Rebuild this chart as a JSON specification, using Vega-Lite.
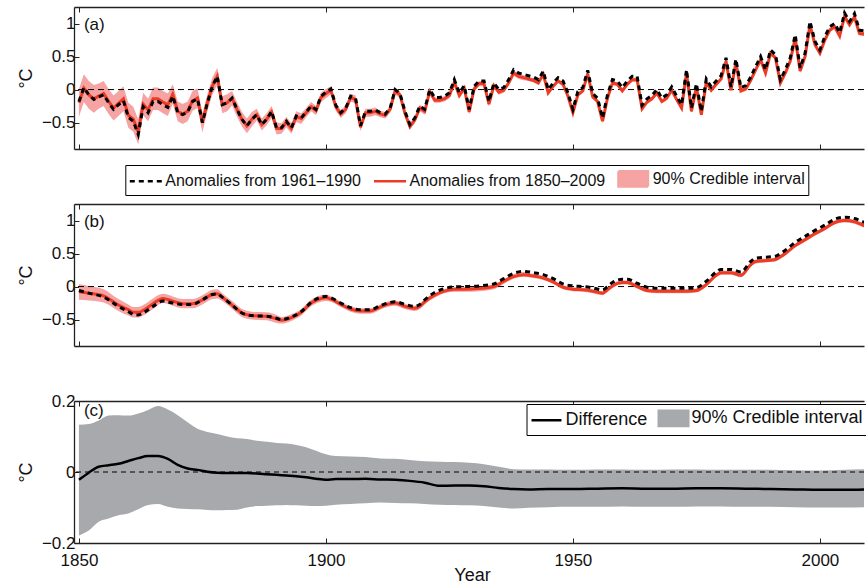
{
  "$schema": "https://vega.github.io/schema/vega-lite/v6.json",
  "padding": {"left": 17, "top": 6, "right": 0, "bottom": 0},
  "bounds": "flush",
  "spacing": 55,
  "config": {
    "font": "Liberation Sans",
    "view": {"stroke": null},
    "axis": {"grid": false, "domainColor": "#222", "domainWidth": 1.3, "tickColor": "#222", "tickSize": -5, "tickWidth": 1, "labelFontSize": 17, "labelColor": "#111", "titleFontSize": 18, "titleFontWeight": "normal", "titleColor": "#111", "labelFont": "Liberation Sans", "titleFont": "Liberation Sans"}
  },
  "resolve": {
    "scale": {"color": "independent", "shape": "independent", "strokeDash": "independent"},
    "legend": {"color": "independent", "shape": "independent", "strokeDash": "independent"}
  },
  "datasets": {
    "ann": [
      {"year":1850,"a":-0.18,"r":-0.20,"lo":-0.41,"hi":0.01},
      {"year":1851,"a":0.03,"r":0.02,"lo":-0.19,"hi":0.23},
      {"year":1852,"a":-0.08,"r":-0.08,"lo":-0.29,"hi":0.13},
      {"year":1853,"a":-0.15,"r":-0.14,"lo":-0.35,"hi":0.07},
      {"year":1854,"a":-0.11,"r":-0.10,"lo":-0.29,"hi":0.09},
      {"year":1855,"a":-0.08,"r":-0.06,"lo":-0.25,"hi":0.13},
      {"year":1856,"a":-0.20,"r":-0.18,"lo":-0.37,"hi":0.01},
      {"year":1857,"a":-0.30,"r":-0.28,"lo":-0.47,"hi":-0.09},
      {"year":1858,"a":-0.23,"r":-0.21,"lo":-0.40,"hi":-0.02},
      {"year":1859,"a":-0.17,"r":-0.14,"lo":-0.33,"hi":0.05},
      {"year":1860,"a":-0.42,"r":-0.39,"lo":-0.58,"hi":-0.20},
      {"year":1861,"a":-0.48,"r":-0.45,"lo":-0.64,"hi":-0.26},
      {"year":1862,"a":-0.68,"r":-0.64,"lo":-0.83,"hi":-0.45},
      {"year":1863,"a":-0.26,"r":-0.22,"lo":-0.39,"hi":-0.05},
      {"year":1864,"a":-0.35,"r":-0.31,"lo":-0.48,"hi":-0.14},
      {"year":1865,"a":-0.18,"r":-0.14,"lo":-0.31,"hi":0.03},
      {"year":1866,"a":-0.18,"r":-0.14,"lo":-0.31,"hi":0.03},
      {"year":1867,"a":-0.23,"r":-0.19,"lo":-0.36,"hi":-0.02},
      {"year":1868,"a":-0.27,"r":-0.23,"lo":-0.40,"hi":-0.06},
      {"year":1869,"a":-0.10,"r":-0.07,"lo":-0.22,"hi":0.08},
      {"year":1870,"a":-0.35,"r":-0.33,"lo":-0.48,"hi":-0.18},
      {"year":1871,"a":-0.38,"r":-0.37,"lo":-0.52,"hi":-0.22},
      {"year":1872,"a":-0.34,"r":-0.33,"lo":-0.48,"hi":-0.18},
      {"year":1873,"a":-0.18,"r":-0.17,"lo":-0.32,"hi":-0.02},
      {"year":1874,"a":-0.14,"r":-0.13,"lo":-0.28,"hi":0.02},
      {"year":1875,"a":-0.50,"r":-0.50,"lo":-0.65,"hi":-0.35},
      {"year":1876,"a":-0.20,"r":-0.20,"lo":-0.33,"hi":-0.07},
      {"year":1877,"a":0.05,"r":0.05,"lo":-0.08,"hi":0.18},
      {"year":1878,"a":0.20,"r":0.20,"lo":0.07,"hi":0.33},
      {"year":1879,"a":-0.23,"r":-0.23,"lo":-0.36,"hi":-0.10},
      {"year":1880,"a":-0.20,"r":-0.20,"lo":-0.33,"hi":-0.07},
      {"year":1881,"a":-0.13,"r":-0.13,"lo":-0.24,"hi":-0.02},
      {"year":1882,"a":-0.30,"r":-0.30,"lo":-0.41,"hi":-0.19},
      {"year":1883,"a":-0.45,"r":-0.45,"lo":-0.56,"hi":-0.34},
      {"year":1884,"a":-0.55,"r":-0.55,"lo":-0.66,"hi":-0.44},
      {"year":1885,"a":-0.45,"r":-0.45,"lo":-0.56,"hi":-0.34},
      {"year":1886,"a":-0.38,"r":-0.38,"lo":-0.47,"hi":-0.29},
      {"year":1887,"a":-0.53,"r":-0.53,"lo":-0.62,"hi":-0.44},
      {"year":1888,"a":-0.45,"r":-0.45,"lo":-0.54,"hi":-0.36},
      {"year":1889,"a":-0.33,"r":-0.34,"lo":-0.43,"hi":-0.25},
      {"year":1890,"a":-0.58,"r":-0.59,"lo":-0.68,"hi":-0.50},
      {"year":1891,"a":-0.58,"r":-0.59,"lo":-0.67,"hi":-0.51},
      {"year":1892,"a":-0.48,"r":-0.49,"lo":-0.57,"hi":-0.41},
      {"year":1893,"a":-0.58,"r":-0.59,"lo":-0.67,"hi":-0.51},
      {"year":1894,"a":-0.40,"r":-0.41,"lo":-0.49,"hi":-0.33},
      {"year":1895,"a":-0.43,"r":-0.44,"lo":-0.52,"hi":-0.36},
      {"year":1896,"a":-0.34,"r":-0.35,"lo":-0.42,"hi":-0.28},
      {"year":1897,"a":-0.25,"r":-0.26,"lo":-0.33,"hi":-0.19},
      {"year":1898,"a":-0.30,"r":-0.32,"lo":-0.39,"hi":-0.25},
      {"year":1899,"a":-0.10,"r":-0.12,"lo":-0.19,"hi":-0.05},
      {"year":1900,"a":-0.04,"r":-0.06,"lo":-0.13,"hi":0.01},
      {"year":1901,"a":0.01,"r":-0.01,"lo":-0.07,"hi":0.05},
      {"year":1902,"a":-0.24,"r":-0.26,"lo":-0.32,"hi":-0.20},
      {"year":1903,"a":-0.35,"r":-0.37,"lo":-0.43,"hi":-0.31},
      {"year":1904,"a":-0.28,"r":-0.30,"lo":-0.36,"hi":-0.24},
      {"year":1905,"a":-0.10,"r":-0.12,"lo":-0.18,"hi":-0.06},
      {"year":1906,"a":-0.13,"r":-0.15,"lo":-0.21,"hi":-0.09},
      {"year":1907,"a":-0.55,"r":-0.57,"lo":-0.63,"hi":-0.51},
      {"year":1908,"a":-0.33,"r":-0.35,"lo":-0.41,"hi":-0.29},
      {"year":1909,"a":-0.33,"r":-0.35,"lo":-0.41,"hi":-0.29},
      {"year":1910,"a":-0.31,"r":-0.33,"lo":-0.39,"hi":-0.27},
      {"year":1911,"a":-0.35,"r":-0.37,"lo":-0.42,"hi":-0.32},
      {"year":1912,"a":-0.37,"r":-0.39,"lo":-0.44,"hi":-0.34},
      {"year":1913,"a":-0.28,"r":-0.30,"lo":-0.35,"hi":-0.25},
      {"year":1914,"a":0.00,"r":-0.02,"lo":-0.07,"hi":0.03},
      {"year":1915,"a":-0.06,"r":-0.08,"lo":-0.13,"hi":-0.03},
      {"year":1916,"a":-0.33,"r":-0.36,"lo":-0.41,"hi":-0.31},
      {"year":1917,"a":-0.53,"r":-0.56,"lo":-0.61,"hi":-0.51},
      {"year":1918,"a":-0.43,"r":-0.46,"lo":-0.51,"hi":-0.41},
      {"year":1919,"a":-0.25,"r":-0.28,"lo":-0.33,"hi":-0.23},
      {"year":1920,"a":-0.30,"r":-0.33,"lo":-0.38,"hi":-0.28},
      {"year":1921,"a":0.00,"r":-0.03,"lo":-0.07,"hi":0.01},
      {"year":1922,"a":-0.12,"r":-0.16,"lo":-0.20,"hi":-0.12},
      {"year":1923,"a":-0.12,"r":-0.16,"lo":-0.20,"hi":-0.12},
      {"year":1924,"a":-0.10,"r":-0.14,"lo":-0.18,"hi":-0.10},
      {"year":1925,"a":-0.05,"r":-0.09,"lo":-0.13,"hi":-0.05},
      {"year":1926,"a":0.15,"r":0.11,"lo":0.07,"hi":0.15},
      {"year":1927,"a":-0.05,"r":-0.09,"lo":-0.13,"hi":-0.05},
      {"year":1928,"a":0.06,"r":0.02,"lo":-0.02,"hi":0.06},
      {"year":1929,"a":-0.30,"r":-0.34,"lo":-0.38,"hi":-0.30},
      {"year":1930,"a":0.05,"r":0.01,"lo":-0.03,"hi":0.05},
      {"year":1931,"a":0.13,"r":0.09,"lo":0.05,"hi":0.13},
      {"year":1932,"a":0.13,"r":0.09,"lo":0.05,"hi":0.13},
      {"year":1933,"a":-0.18,"r":-0.22,"lo":-0.26,"hi":-0.18},
      {"year":1934,"a":0.10,"r":0.06,"lo":0.02,"hi":0.10},
      {"year":1935,"a":0.00,"r":-0.04,"lo":-0.08,"hi":0.00},
      {"year":1936,"a":0.03,"r":-0.01,"lo":-0.05,"hi":0.03},
      {"year":1937,"a":0.15,"r":0.10,"lo":0.06,"hi":0.14},
      {"year":1938,"a":0.30,"r":0.25,"lo":0.21,"hi":0.29},
      {"year":1939,"a":0.25,"r":0.20,"lo":0.16,"hi":0.24},
      {"year":1940,"a":0.23,"r":0.18,"lo":0.14,"hi":0.22},
      {"year":1941,"a":0.21,"r":0.16,"lo":0.13,"hi":0.19},
      {"year":1942,"a":0.19,"r":0.14,"lo":0.11,"hi":0.17},
      {"year":1943,"a":0.15,"r":0.10,"lo":0.07,"hi":0.13},
      {"year":1944,"a":0.28,"r":0.23,"lo":0.20,"hi":0.26},
      {"year":1945,"a":0.00,"r":-0.05,"lo":-0.08,"hi":-0.02},
      {"year":1946,"a":0.10,"r":0.05,"lo":0.02,"hi":0.08},
      {"year":1947,"a":0.18,"r":0.13,"lo":0.10,"hi":0.16},
      {"year":1948,"a":0.13,"r":0.08,"lo":0.05,"hi":0.11},
      {"year":1949,"a":-0.05,"r":-0.10,"lo":-0.13,"hi":-0.07},
      {"year":1950,"a":-0.30,"r":-0.35,"lo":-0.38,"hi":-0.32},
      {"year":1951,"a":-0.03,"r":-0.08,"lo":-0.11,"hi":-0.05},
      {"year":1952,"a":0.03,"r":-0.02,"lo":-0.05,"hi":0.01},
      {"year":1953,"a":0.29,"r":0.24,"lo":0.21,"hi":0.27},
      {"year":1954,"a":-0.06,"r":-0.11,"lo":-0.14,"hi":-0.08},
      {"year":1955,"a":-0.13,"r":-0.18,"lo":-0.21,"hi":-0.15},
      {"year":1956,"a":-0.43,"r":-0.48,"lo":-0.51,"hi":-0.45},
      {"year":1957,"a":-0.08,"r":-0.13,"lo":-0.16,"hi":-0.10},
      {"year":1958,"a":0.15,"r":0.10,"lo":0.07,"hi":0.13},
      {"year":1959,"a":0.13,"r":0.08,"lo":0.05,"hi":0.11},
      {"year":1960,"a":0.03,"r":-0.02,"lo":-0.05,"hi":0.01},
      {"year":1961,"a":0.13,"r":0.08,"lo":0.05,"hi":0.11},
      {"year":1962,"a":0.20,"r":0.15,"lo":0.12,"hi":0.18},
      {"year":1963,"a":0.20,"r":0.15,"lo":0.12,"hi":0.18},
      {"year":1964,"a":-0.24,"r":-0.29,"lo":-0.32,"hi":-0.26},
      {"year":1965,"a":-0.14,"r":-0.19,"lo":-0.22,"hi":-0.16},
      {"year":1966,"a":-0.09,"r":-0.14,"lo":-0.17,"hi":-0.11},
      {"year":1967,"a":0.00,"r":-0.05,"lo":-0.08,"hi":-0.02},
      {"year":1968,"a":-0.13,"r":-0.18,"lo":-0.21,"hi":-0.15},
      {"year":1969,"a":-0.08,"r":-0.13,"lo":-0.16,"hi":-0.10},
      {"year":1970,"a":0.04,"r":-0.01,"lo":-0.04,"hi":0.02},
      {"year":1971,"a":-0.10,"r":-0.15,"lo":-0.18,"hi":-0.12},
      {"year":1972,"a":-0.23,"r":-0.28,"lo":-0.31,"hi":-0.25},
      {"year":1973,"a":0.30,"r":0.25,"lo":0.22,"hi":0.28},
      {"year":1974,"a":-0.28,"r":-0.33,"lo":-0.36,"hi":-0.30},
      {"year":1975,"a":0.09,"r":0.04,"lo":0.01,"hi":0.07},
      {"year":1976,"a":-0.33,"r":-0.38,"lo":-0.41,"hi":-0.35},
      {"year":1977,"a":0.16,"r":0.11,"lo":0.08,"hi":0.14},
      {"year":1978,"a":0.04,"r":-0.01,"lo":-0.04,"hi":0.02},
      {"year":1979,"a":0.13,"r":0.08,"lo":0.05,"hi":0.11},
      {"year":1980,"a":0.21,"r":0.16,"lo":0.13,"hi":0.19},
      {"year":1981,"a":0.48,"r":0.43,"lo":0.40,"hi":0.46},
      {"year":1982,"a":0.04,"r":-0.01,"lo":-0.04,"hi":0.02},
      {"year":1983,"a":0.46,"r":0.41,"lo":0.38,"hi":0.44},
      {"year":1984,"a":0.03,"r":-0.02,"lo":-0.05,"hi":0.01},
      {"year":1985,"a":0.06,"r":0.01,"lo":-0.02,"hi":0.04},
      {"year":1986,"a":0.19,"r":0.14,"lo":0.11,"hi":0.17},
      {"year":1987,"a":0.35,"r":0.30,"lo":0.27,"hi":0.33},
      {"year":1988,"a":0.50,"r":0.45,"lo":0.42,"hi":0.48},
      {"year":1989,"a":0.30,"r":0.25,"lo":0.22,"hi":0.28},
      {"year":1990,"a":0.60,"r":0.55,"lo":0.52,"hi":0.58},
      {"year":1991,"a":0.53,"r":0.48,"lo":0.45,"hi":0.51},
      {"year":1992,"a":0.15,"r":0.10,"lo":0.07,"hi":0.13},
      {"year":1993,"a":0.30,"r":0.25,"lo":0.22,"hi":0.28},
      {"year":1994,"a":0.48,"r":0.43,"lo":0.40,"hi":0.46},
      {"year":1995,"a":0.83,"r":0.78,"lo":0.75,"hi":0.81},
      {"year":1996,"a":0.33,"r":0.28,"lo":0.25,"hi":0.31},
      {"year":1997,"a":0.55,"r":0.50,"lo":0.47,"hi":0.53},
      {"year":1998,"a":1.03,"r":0.98,"lo":0.95,"hi":1.01},
      {"year":1999,"a":0.73,"r":0.68,"lo":0.65,"hi":0.71},
      {"year":2000,"a":0.60,"r":0.55,"lo":0.52,"hi":0.58},
      {"year":2001,"a":0.80,"r":0.75,"lo":0.72,"hi":0.78},
      {"year":2002,"a":0.95,"r":0.90,"lo":0.87,"hi":0.93},
      {"year":2003,"a":1.00,"r":0.95,"lo":0.92,"hi":0.98},
      {"year":2004,"a":0.86,"r":0.81,"lo":0.78,"hi":0.84},
      {"year":2005,"a":1.16,"r":1.11,"lo":1.08,"hi":1.14},
      {"year":2006,"a":1.03,"r":0.98,"lo":0.95,"hi":1.01},
      {"year":2007,"a":1.15,"r":1.10,"lo":1.07,"hi":1.13},
      {"year":2008,"a":0.90,"r":0.85,"lo":0.82,"hi":0.88},
      {"year":2009,"a":0.89,"r":0.84,"lo":0.81,"hi":0.87}
    ],
    "smooth": [
      {"year":1850,"b":-0.06,"r":-0.08,"lo":-0.20,"hi":0.04},
      {"year":1852,"b":-0.10,"r":-0.10,"lo":-0.21,"hi":0.01},
      {"year":1855,"b":-0.16,"r":-0.14,"lo":-0.24,"hi":-0.04},
      {"year":1858,"b":-0.30,"r":-0.28,"lo":-0.37,"hi":-0.19},
      {"year":1860,"b":-0.38,"r":-0.35,"lo":-0.44,"hi":-0.27},
      {"year":1861,"b":-0.42,"r":-0.39,"lo":-0.47,"hi":-0.31},
      {"year":1862,"b":-0.43,"r":-0.39,"lo":-0.47,"hi":-0.31},
      {"year":1863,"b":-0.40,"r":-0.36,"lo":-0.44,"hi":-0.28},
      {"year":1865,"b":-0.30,"r":-0.26,"lo":-0.34,"hi":-0.18},
      {"year":1867,"b":-0.22,"r":-0.18,"lo":-0.25,"hi":-0.11},
      {"year":1869,"b":-0.25,"r":-0.22,"lo":-0.29,"hi":-0.15},
      {"year":1871,"b":-0.27,"r":-0.26,"lo":-0.33,"hi":-0.19},
      {"year":1873,"b":-0.27,"r":-0.26,"lo":-0.33,"hi":-0.19},
      {"year":1875,"b":-0.20,"r":-0.20,"lo":-0.27,"hi":-0.13},
      {"year":1877,"b":-0.12,"r":-0.12,"lo":-0.19,"hi":-0.05},
      {"year":1878,"b":-0.11,"r":-0.11,"lo":-0.18,"hi":-0.04},
      {"year":1879,"b":-0.16,"r":-0.16,"lo":-0.22,"hi":-0.10},
      {"year":1881,"b":-0.28,"r":-0.28,"lo":-0.34,"hi":-0.22},
      {"year":1883,"b":-0.40,"r":-0.40,"lo":-0.46,"hi":-0.34},
      {"year":1885,"b":-0.44,"r":-0.44,"lo":-0.50,"hi":-0.38},
      {"year":1888,"b":-0.45,"r":-0.45,"lo":-0.51,"hi":-0.39},
      {"year":1890,"b":-0.48,"r":-0.49,"lo":-0.55,"hi":-0.43},
      {"year":1891,"b":-0.50,"r":-0.51,"lo":-0.56,"hi":-0.46},
      {"year":1893,"b":-0.46,"r":-0.47,"lo":-0.52,"hi":-0.42},
      {"year":1895,"b":-0.38,"r":-0.39,"lo":-0.44,"hi":-0.34},
      {"year":1897,"b":-0.24,"r":-0.25,"lo":-0.30,"hi":-0.20},
      {"year":1899,"b":-0.16,"r":-0.18,"lo":-0.23,"hi":-0.13},
      {"year":1900,"b":-0.15,"r":-0.17,"lo":-0.22,"hi":-0.12},
      {"year":1901,"b":-0.17,"r":-0.19,"lo":-0.23,"hi":-0.15},
      {"year":1903,"b":-0.25,"r":-0.27,"lo":-0.31,"hi":-0.23},
      {"year":1905,"b":-0.32,"r":-0.34,"lo":-0.38,"hi":-0.30},
      {"year":1907,"b":-0.35,"r":-0.37,"lo":-0.41,"hi":-0.33},
      {"year":1909,"b":-0.35,"r":-0.37,"lo":-0.41,"hi":-0.33},
      {"year":1911,"b":-0.29,"r":-0.31,"lo":-0.35,"hi":-0.27},
      {"year":1913,"b":-0.24,"r":-0.26,"lo":-0.30,"hi":-0.22},
      {"year":1914,"b":-0.23,"r":-0.25,"lo":-0.29,"hi":-0.21},
      {"year":1916,"b":-0.27,"r":-0.30,"lo":-0.34,"hi":-0.26},
      {"year":1918,"b":-0.30,"r":-0.33,"lo":-0.37,"hi":-0.29},
      {"year":1919,"b":-0.27,"r":-0.30,"lo":-0.34,"hi":-0.26},
      {"year":1920,"b":-0.20,"r":-0.23,"lo":-0.27,"hi":-0.19},
      {"year":1922,"b":-0.09,"r":-0.13,"lo":-0.17,"hi":-0.10},
      {"year":1924,"b":-0.03,"r":-0.07,"lo":-0.10,"hi":-0.04},
      {"year":1926,"b":-0.005,"r":-0.04,"lo":-0.08,"hi":-0.01},
      {"year":1928,"b":0.00,"r":-0.04,"lo":-0.08,"hi":-0.01},
      {"year":1931,"b":0.01,"r":-0.03,"lo":-0.07,"hi":0.00},
      {"year":1934,"b":0.04,"r":0.00,"lo":-0.04,"hi":0.04},
      {"year":1936,"b":0.12,"r":0.08,"lo":0.04,"hi":0.11},
      {"year":1938,"b":0.20,"r":0.15,"lo":0.12,"hi":0.19},
      {"year":1940,"b":0.23,"r":0.18,"lo":0.15,"hi":0.22},
      {"year":1942,"b":0.21,"r":0.16,"lo":0.13,"hi":0.19},
      {"year":1944,"b":0.18,"r":0.13,"lo":0.10,"hi":0.16},
      {"year":1946,"b":0.12,"r":0.07,"lo":0.04,"hi":0.10},
      {"year":1948,"b":0.04,"r":-0.01,"lo":-0.04,"hi":0.02},
      {"year":1950,"b":0.01,"r":-0.04,"lo":-0.07,"hi":-0.01},
      {"year":1952,"b":0.00,"r":-0.05,"lo":-0.08,"hi":-0.02},
      {"year":1954,"b":-0.02,"r":-0.07,"lo":-0.10,"hi":-0.04},
      {"year":1956,"b":-0.05,"r":-0.10,"lo":-0.13,"hi":-0.07},
      {"year":1957,"b":0.00,"r":-0.05,"lo":-0.08,"hi":-0.02},
      {"year":1958,"b":0.06,"r":0.01,"lo":-0.02,"hi":0.04},
      {"year":1960,"b":0.11,"r":0.06,"lo":0.03,"hi":0.09},
      {"year":1961,"b":0.11,"r":0.06,"lo":0.03,"hi":0.09},
      {"year":1963,"b":0.05,"r":0.00,"lo":-0.03,"hi":0.03},
      {"year":1965,"b":-0.01,"r":-0.06,"lo":-0.09,"hi":-0.03},
      {"year":1967,"b":-0.025,"r":-0.07,"lo":-0.10,"hi":-0.04},
      {"year":1970,"b":-0.025,"r":-0.07,"lo":-0.10,"hi":-0.04},
      {"year":1973,"b":-0.025,"r":-0.07,"lo":-0.10,"hi":-0.04},
      {"year":1975,"b":-0.015,"r":-0.06,"lo":-0.09,"hi":-0.03},
      {"year":1977,"b":0.08,"r":0.03,"lo":0.00,"hi":0.06},
      {"year":1979,"b":0.22,"r":0.17,"lo":0.14,"hi":0.20},
      {"year":1980,"b":0.26,"r":0.21,"lo":0.18,"hi":0.24},
      {"year":1982,"b":0.26,"r":0.21,"lo":0.18,"hi":0.24},
      {"year":1984,"b":0.22,"r":0.17,"lo":0.14,"hi":0.20},
      {"year":1986,"b":0.38,"r":0.33,"lo":0.30,"hi":0.36},
      {"year":1987,"b":0.43,"r":0.38,"lo":0.35,"hi":0.41},
      {"year":1990,"b":0.45,"r":0.40,"lo":0.37,"hi":0.43},
      {"year":1991,"b":0.46,"r":0.41,"lo":0.38,"hi":0.44},
      {"year":1992,"b":0.50,"r":0.45,"lo":0.42,"hi":0.48},
      {"year":1993,"b":0.55,"r":0.50,"lo":0.47,"hi":0.53},
      {"year":1995,"b":0.67,"r":0.62,"lo":0.59,"hi":0.65},
      {"year":1997,"b":0.76,"r":0.71,"lo":0.68,"hi":0.74},
      {"year":1999,"b":0.85,"r":0.80,"lo":0.77,"hi":0.83},
      {"year":2001,"b":0.93,"r":0.88,"lo":0.85,"hi":0.91},
      {"year":2003,"b":1.02,"r":0.97,"lo":0.94,"hi":1.00},
      {"year":2005,"b":1.05,"r":1.00,"lo":0.97,"hi":1.03},
      {"year":2007,"b":1.03,"r":0.98,"lo":0.95,"hi":1.01},
      {"year":2009,"b":0.97,"r":0.92,"lo":0.89,"hi":0.95}
    ],
    "diff": [
      {"year":1850,"d":-0.022,"lo":-0.179,"hi":0.133},
      {"year":1852,"d":-0.002,"lo":-0.165,"hi":0.135},
      {"year":1854,"d":0.015,"lo":-0.140,"hi":0.145},
      {"year":1856,"d":0.019,"lo":-0.131,"hi":0.159},
      {"year":1858,"d":0.023,"lo":-0.122,"hi":0.160},
      {"year":1860,"d":0.031,"lo":-0.117,"hi":0.159},
      {"year":1862,"d":0.039,"lo":-0.105,"hi":0.165},
      {"year":1864,"d":0.045,"lo":-0.093,"hi":0.175},
      {"year":1866,"d":0.045,"lo":-0.090,"hi":0.186},
      {"year":1868,"d":0.037,"lo":-0.098,"hi":0.176},
      {"year":1870,"d":0.020,"lo":-0.103,"hi":0.160},
      {"year":1872,"d":0.010,"lo":-0.104,"hi":0.140},
      {"year":1874,"d":0.006,"lo":-0.105,"hi":0.122},
      {"year":1876,"d":0.001,"lo":-0.107,"hi":0.113},
      {"year":1878,"d":-0.002,"lo":-0.108,"hi":0.107},
      {"year":1880,"d":-0.003,"lo":-0.107,"hi":0.100},
      {"year":1882,"d":-0.003,"lo":-0.106,"hi":0.095},
      {"year":1884,"d":-0.003,"lo":-0.100,"hi":0.093},
      {"year":1886,"d":-0.004,"lo":-0.096,"hi":0.088},
      {"year":1888,"d":-0.006,"lo":-0.095,"hi":0.085},
      {"year":1890,"d":-0.008,"lo":-0.094,"hi":0.082},
      {"year":1892,"d":-0.010,"lo":-0.093,"hi":0.080},
      {"year":1894,"d":-0.012,"lo":-0.094,"hi":0.076},
      {"year":1896,"d":-0.015,"lo":-0.095,"hi":0.070},
      {"year":1898,"d":-0.019,"lo":-0.096,"hi":0.060},
      {"year":1900,"d":-0.022,"lo":-0.095,"hi":0.050},
      {"year":1902,"d":-0.020,"lo":-0.092,"hi":0.045},
      {"year":1905,"d":-0.020,"lo":-0.090,"hi":0.044},
      {"year":1908,"d":-0.019,"lo":-0.088,"hi":0.042},
      {"year":1911,"d":-0.021,"lo":-0.086,"hi":0.038},
      {"year":1914,"d":-0.022,"lo":-0.087,"hi":0.037},
      {"year":1917,"d":-0.025,"lo":-0.088,"hi":0.034},
      {"year":1920,"d":-0.030,"lo":-0.090,"hi":0.030},
      {"year":1923,"d":-0.039,"lo":-0.092,"hi":0.029},
      {"year":1926,"d":-0.038,"lo":-0.093,"hi":0.028},
      {"year":1929,"d":-0.038,"lo":-0.094,"hi":0.026},
      {"year":1932,"d":-0.040,"lo":-0.096,"hi":0.022},
      {"year":1935,"d":-0.045,"lo":-0.100,"hi":0.015},
      {"year":1938,"d":-0.048,"lo":-0.103,"hi":0.008},
      {"year":1941,"d":-0.049,"lo":-0.101,"hi":0.007},
      {"year":1945,"d":-0.048,"lo":-0.099,"hi":0.007},
      {"year":1950,"d":-0.048,"lo":-0.098,"hi":0.006},
      {"year":1955,"d":-0.047,"lo":-0.098,"hi":0.007},
      {"year":1960,"d":-0.046,"lo":-0.097,"hi":0.007},
      {"year":1965,"d":-0.047,"lo":-0.098,"hi":0.006},
      {"year":1970,"d":-0.047,"lo":-0.098,"hi":0.007},
      {"year":1975,"d":-0.046,"lo":-0.097,"hi":0.007},
      {"year":1980,"d":-0.046,"lo":-0.097,"hi":0.006},
      {"year":1985,"d":-0.047,"lo":-0.098,"hi":0.006},
      {"year":1990,"d":-0.048,"lo":-0.098,"hi":0.006},
      {"year":1995,"d":-0.049,"lo":-0.099,"hi":0.005},
      {"year":2000,"d":-0.050,"lo":-0.100,"hi":0.004},
      {"year":2005,"d":-0.050,"lo":-0.100,"hi":0.006},
      {"year":2009,"d":-0.049,"lo":-0.099,"hi":0.008}
    ]
  },
  "vconcat": [
    {
      "width": 790, "height": 142,
      "resolve": {"axis": {"x": "independent"}},
      "layer": [
        {
          "data": {"name": "ann"},
          "mark": {"type": "area", "clip": true, "opacity": 1},
          "encoding": {
            "x": {"field": "year", "type": "quantitative", "scale": {"domain": [1849, 2008.93], "nice": false, "zero": false}, "axis": {"orient": "bottom", "values": [1850, 1900, 1950, 2000], "labels": false, "title": null}},
            "y": {"field": "lo", "type": "quantitative", "title": "°C", "scale": {"domain": [-0.9, 1.25], "nice": false, "zero": false}, "axis": {"values": [-0.5, 0, 0.5, 1], "format": "~g", "labelPadding": 4, "titleX": -43, "titleY": 71, "titleAngle": -90, "titleBaseline": "alphabetic", "titleAlign": "center"}},
            "y2": {"field": "hi"},
            "color": {
              "datum": "90% Credible interval",
              "title": null,
              "scale": {"domain": ["Anomalies from 1961–1990", "Anomalies from 1850–2009", "90% Credible interval"], "range": ["#000000", "#ee3b24", "#f5a3a3"]},
              "legend": {
                "orient": "none", "legendX": 51.3, "legendY": 158, "direction": "horizontal", "title": null,
                "strokeColor": "#000", "fillColor": "#fff", "padding": 3, "columnPadding": 7.2,
                "labelFontSize": 16, "labelColor": "#111", "labelOffset": 16, "labelLimit": 400,
                "symbolSize": 324, "symbolStrokeWidth": 2.5
              }
            }
          }
        },
        {
          "data": {"values": [{}]},
          "mark": {"type": "rule", "strokeDash": [6, 4], "color": "#000", "strokeWidth": 1},
          "encoding": {"y": {"datum": 0, "title": "°C"}}
        },
        {
          "data": {"name": "ann"},
          "mark": {"type": "line", "clip": true, "strokeWidth": 3},
          "encoding": {
            "x": {"field": "year", "type": "quantitative", "axis": null},
            "y": {"field": "r", "type": "quantitative", "title": "°C"},
            "color": {"datum": "Anomalies from 1850–2009", "title": null},
            "strokeDash": {"datum": "Anomalies from 1850–2009", "title": null, "legend": {"title": null}, "scale": {"domain": ["Anomalies from 1961–1990", "Anomalies from 1850–2009", "90% Credible interval"], "range": [[5, 4], [1, 0], [1, 0]]}}
          }
        },
        {
          "data": {"name": "ann"},
          "mark": {"type": "line", "clip": true, "strokeWidth": 3},
          "encoding": {
            "x": {"field": "year", "type": "quantitative", "axis": {"orient": "top", "values": [1850, 1900, 1950, 2000], "labels": false, "title": null}},
            "y": {"field": "a", "type": "quantitative", "title": "°C"},
            "color": {"datum": "Anomalies from 1961–1990", "title": null},
            "strokeDash": {"datum": "Anomalies from 1961–1990", "title": null}
          }
        },
        {
          "data": {"values": [{"s": "Anomalies from 1961–1990"}, {"s": "Anomalies from 1850–2009"}, {"s": "90% Credible interval"}]},
          "transform": [{"filter": "false"}],
          "mark": {"type": "point"},
          "encoding": {
            "shape": {"field": "s", "type": "nominal", "title": null, "legend": {"title": null}, "scale": {"domain": ["Anomalies from 1961–1990", "Anomalies from 1850–2009", "90% Credible interval"], "range": ["M-1,0H2.56", "M-1,0H2.56", "M-0.86,-0.86H2.42V0.86H-0.86Z"]}}
          }
        },
        {
          "data": {"values": [{}]},
          "mark": {"type": "text", "align": "left", "baseline": "alphabetic", "fontSize": 17, "color": "#111"},
          "encoding": {
            "x": {"datum": 1851.0, "type": "quantitative", "axis": null},
            "y": {"datum": 0.9, "type": "quantitative", "title": "°C"},
            "text": {"value": "(a)"}
          }
        }
      ]
    },
    {
      "width": 790, "height": 142,
      "resolve": {"axis": {"x": "independent"}},
      "layer": [
        {
          "data": {"name": "smooth"},
          "mark": {"type": "area", "clip": true, "opacity": 1, "color": "#f5a3a3", "interpolate": "monotone"},
          "encoding": {
            "x": {"field": "year", "type": "quantitative", "scale": {"domain": [1849, 2008.93], "nice": false, "zero": false}, "axis": {"orient": "bottom", "values": [1850, 1900, 1950, 2000], "labels": false, "title": null}},
            "y": {"field": "lo", "type": "quantitative", "title": "°C", "scale": {"domain": [-0.9, 1.25], "nice": false, "zero": false}, "axis": {"values": [-0.5, 0, 0.5, 1], "format": "~g", "labelPadding": 4, "titleX": -43, "titleY": 71, "titleAngle": -90, "titleBaseline": "alphabetic", "titleAlign": "center"}},
            "y2": {"field": "hi"}
          }
        },
        {
          "data": {"values": [{}]},
          "mark": {"type": "rule", "strokeDash": [6, 4], "color": "#000", "strokeWidth": 1},
          "encoding": {"y": {"datum": 0, "title": "°C"}}
        },
        {
          "data": {"name": "smooth"},
          "mark": {"type": "line", "clip": true, "strokeWidth": 3, "color": "#ee3b24", "interpolate": "monotone"},
          "encoding": {
            "x": {"field": "year", "type": "quantitative", "axis": null},
            "y": {"field": "r", "type": "quantitative", "title": "°C"}
          }
        },
        {
          "data": {"name": "smooth"},
          "mark": {"type": "line", "clip": true, "strokeWidth": 3, "strokeDash": [5, 4], "color": "#000", "interpolate": "monotone"},
          "encoding": {
            "x": {"field": "year", "type": "quantitative", "axis": {"orient": "top", "values": [1850, 1900, 1950, 2000], "labels": false, "title": null}},
            "y": {"field": "b", "type": "quantitative", "title": "°C"}
          }
        },
        {
          "data": {"values": [{}]},
          "mark": {"type": "text", "align": "left", "baseline": "alphabetic", "fontSize": 17, "color": "#111"},
          "encoding": {
            "x": {"datum": 1851.0, "type": "quantitative", "axis": null},
            "y": {"datum": 0.9, "type": "quantitative", "title": "°C"},
            "text": {"value": "(b)"}
          }
        }
      ]
    },
    {
      "width": 790, "height": 142,
      "resolve": {"axis": {"x": "independent"}},
      "layer": [
        {
          "data": {"name": "diff"},
          "mark": {"type": "area", "clip": true, "opacity": 1, "interpolate": "monotone"},
          "encoding": {
            "x": {"field": "year", "type": "quantitative", "scale": {"domain": [1849, 2008.93], "nice": false, "zero": false}, "axis": {"orient": "bottom", "values": [1850, 1900, 1950, 2000], "format": "d", "labelPadding": 27, "labelBaseline": "alphabetic", "title": "Year", "titleX": 398, "titleY": 37.5, "titleBaseline": "alphabetic", "titleAlign": "center"}},
            "y": {"field": "lo", "type": "quantitative", "title": "°C", "scale": {"domain": [-0.2, 0.2], "nice": false, "zero": false}, "axis": {"values": [-0.2, 0, 0.2], "format": "~g", "labelPadding": 4, "titleX": -43, "titleY": 71, "titleAngle": -90, "titleBaseline": "alphabetic", "titleAlign": "center"}},
            "y2": {"field": "hi"},
            "color": {
              "datum": "90% Credible interval",
              "title": null,
              "scale": {"domain": ["Difference", "90% Credible interval"], "range": ["#000000", "#a7a9ac"]},
              "legend": {
                "orient": "none", "legendX": 452.5, "legendY": 3, "direction": "horizontal", "title": null,
                "strokeColor": "#000", "fillColor": "#fff", "padding": 3.5, "columnPadding": 5,
                "labelFontSize": 18, "labelColor": "#111", "labelOffset": 14.5, "labelLimit": 400,
                "symbolSize": 324, "symbolStrokeWidth": 2.5
              }
            }
          }
        },
        {
          "data": {"values": [{}]},
          "mark": {"type": "rule", "strokeDash": [5, 4], "color": "#000", "strokeWidth": 1},
          "encoding": {"y": {"datum": 0, "title": "°C"}}
        },
        {
          "data": {"name": "diff"},
          "mark": {"type": "line", "clip": true, "strokeWidth": 2.5, "interpolate": "monotone"},
          "encoding": {
            "x": {"field": "year", "type": "quantitative", "axis": {"orient": "top", "values": [1850, 1900, 1950, 2000], "labels": false, "title": null}},
            "y": {"field": "d", "type": "quantitative", "title": "°C"},
            "color": {"datum": "Difference", "title": null}
          }
        },
        {
          "data": {"values": [{"s": "Difference"}, {"s": "90% Credible interval"}]},
          "transform": [{"filter": "false"}],
          "mark": {"type": "point"},
          "encoding": {
            "shape": {"field": "s", "type": "nominal", "title": null, "legend": {"title": null}, "scale": {"domain": ["Difference", "90% Credible interval"], "range": ["M-1,0H2.33", "M-0.86,-0.86H2.42V0.86H-0.86Z"]}}
          }
        },
        {
          "data": {"values": [{}]},
          "mark": {"type": "text", "align": "left", "baseline": "alphabetic", "fontSize": 17, "color": "#111"},
          "encoding": {
            "x": {"datum": 1851.0, "type": "quantitative", "axis": null},
            "y": {"datum": 0.158, "type": "quantitative", "title": "°C"},
            "text": {"value": "(c)"}
          }
        }
      ]
    }
  ]
}
